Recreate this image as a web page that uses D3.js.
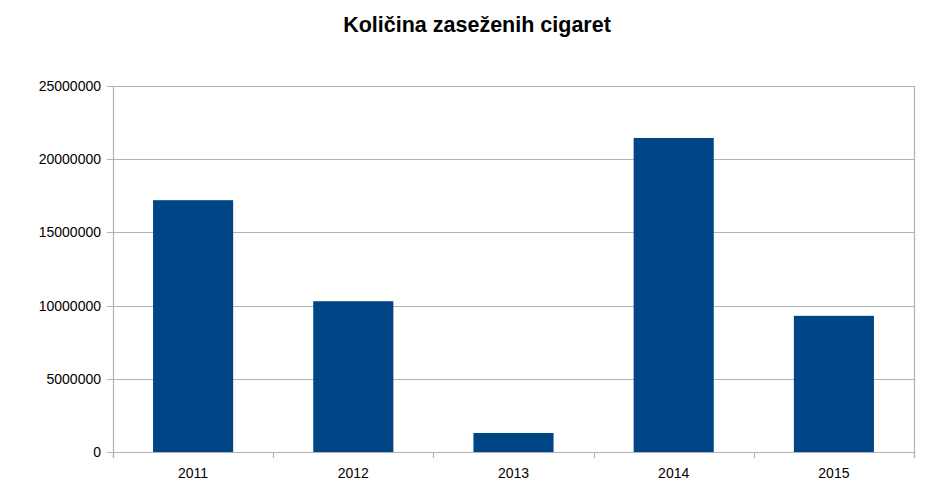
<!DOCTYPE html>
<html>
<head>
<meta charset="utf-8">
<script src="https://cdn.jsdelivr.net/npm/d3@7"></script>
<style>
    body { margin: 0; background: #fff; }
    text { font-family: "Liberation Sans", Arial, sans-serif; fill: #000; }
</style>
</head>
<body>
<svg id="chart" width="940" height="499"></svg>
<script>
// chart data
var years = ['2011', '2012', '2013', '2014', '2015'];
var seized = [17200000, 10300000, 1300000, 21450000, 9300000];
var yTicks = [0, 5000000, 10000000, 15000000, 20000000, 25000000];

var svg = d3.select('#chart');
var margin = { top: 86, right: 26, bottom: 47, left: 113 };
var width = 940 - margin.left - margin.right;
var height = 499 - margin.top - margin.bottom;

var x = d3.scaleBand().domain(years).range([0, width]).paddingInner(0.5).paddingOuter(0.25);
var y = d3.scaleLinear().domain([0, 25000000]).range([height, 0]);

var g = svg.append('g').attr('transform', 'translate(' + margin.left + ',' + margin.top + ')');

// horizontal gridlines + y tick marks
g.selectAll('.grid')
    .data(yTicks)
    .enter().append('line')
    .attr('x1', -6)
    .attr('x2', width)
    .attr('y1', function (d) { return Math.round(y(d)) + 0.5; })
    .attr('y2', function (d) { return Math.round(y(d)) + 0.5; })
    .attr('stroke', '#b3b3b3')
    .attr('stroke-width', 1.2);

g.selectAll('.ylabel')
    .data(yTicks)
    .enter().append('text')
    .attr('x', -12)
    .attr('y', function (d) { return y(d); })
    .attr('dy', '0.35em')
    .attr('text-anchor', 'end')
    .attr('font-size', 14)
    .text(function (d) { return d; });

// axis frame (left + right)
g.append('line').attr('x1', 0.5).attr('x2', 0.5).attr('y1', 0).attr('y2', height + 6)
    .attr('stroke', '#b3b3b3').attr('stroke-width', 1.2);
g.append('line').attr('x1', width + 0.5).attr('x2', width + 0.5).attr('y1', 0).attr('y2', height + 6)
    .attr('stroke', '#b3b3b3').attr('stroke-width', 1.2);

// bars
g.selectAll('.bar')
    .data(seized)
    .enter().append('rect')
    .attr('x', function (d, i) { return x(years[i]); })
    .attr('width', x.bandwidth())
    .attr('y', function (d) { return y(d); })
    .attr('height', function (d) { return height - y(d); })
    .attr('fill', '#004586');

// x tick marks between categories
var bounds = d3.range(years.length + 1).map(function (i) { return i * width / years.length; });
g.selectAll('.xtick')
    .data(bounds)
    .enter().append('line')
    .attr('x1', function (d) { return Math.round(d) + 0.5; })
    .attr('x2', function (d) { return Math.round(d) + 0.5; })
    .attr('y1', height)
    .attr('y2', height + 6)
    .attr('stroke', '#b3b3b3')
    .attr('stroke-width', 1.2);

g.selectAll('.xlabel')
    .data(years)
    .enter().append('text')
    .attr('x', function (d) { return x(d) + x.bandwidth() / 2; })
    .attr('y', height + 26)
    .attr('text-anchor', 'middle')
    .attr('font-size', 14)
    .text(function (d) { return d; });

// title
svg.append('text')
    .attr('x', 477)
    .attr('y', 32)
    .attr('text-anchor', 'middle')
    .attr('font-size', 21.5)
    .attr('font-weight', 'bold')
    .text('Količina zaseženih cigaret');
</script>
</body>
</html>
